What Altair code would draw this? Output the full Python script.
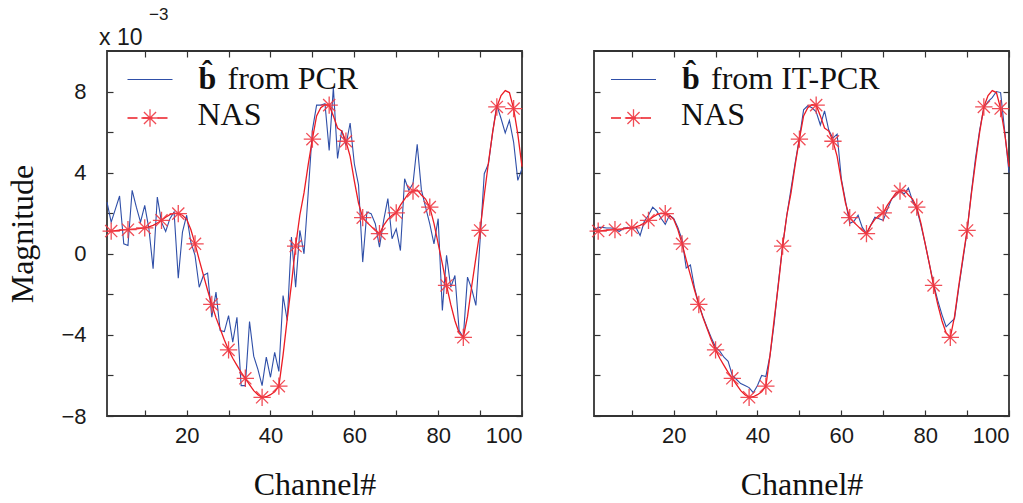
import altair as alt
import pandas as pd

channels = list(range(1, 101))

pcr_b = [2.55, 1.56, 2.20, 2.85, 0.49, 0.41, 3.13, 2.30, 1.56, 2.39,
         1.23, -0.74, 2.80, 1.56, 1.10, 1.73, 2.06, -1.20, 1.07, 1.90,
         0.58, -0.08, -1.65, -1.07, -0.95, -3.13, -1.89, -3.79, -3.84, -3.05,
         -4.36, -3.13, -6.50, -6.50, -3.34, -5.05, -5.70, -6.50, -5.10, -6.09,
         -4.86, -5.80, -2.06, -3.29, 0.82, -1.65, 1.15, 0.00, 3.00, 6.10,
         7.33, 7.33, 7.40, 5.10, 8.20, 4.70, 6.10, 5.35, 6.45, 4.44,
         3.40, -0.41, 2.06, 1.98, 1.48, 0.33, 1.65, 2.72, 0.74, 1.23,
         0.16, 3.70, 3.13, 3.46, 5.40, 3.15, 2.30, 1.48, 0.49, 1.73,
         -2.80, -0.08, -1.65, -1.07, -3.79, -4.12, -1.15, -1.73, -2.55, 0.66,
         3.95, 4.44, 6.00, 7.33, 6.67, 5.96, 6.58, 5.51, 3.62, 4.20]

itpcr_b = [1.15, 1.30, 1.30, 1.27, 1.27, 1.25, 1.10, 1.25, 1.30, 1.25,
           1.30, 0.90, 1.60, 1.90, 2.30, 2.10, 1.75, 1.45, 1.90, 1.75,
           1.30, 0.70, -0.70, -0.55, -1.70, -2.50, -3.10, -3.65, -4.15, -4.60,
           -4.80, -5.10, -5.30, -6.00, -6.20, -6.40, -6.50, -6.60, -6.85, -6.50,
           -6.00, -6.05, -5.00, -3.40, -1.40, 0.40, 1.90, 3.20, 4.50, 5.70,
           7.10, 7.30, 7.20, 7.00, 6.35, 7.05, 6.10, 5.70, 5.90, 3.70,
           2.60, 1.50, 1.60, 1.90, 1.30, 1.00, 1.40, 1.80, 1.73, 1.65,
           2.20, 2.70, 2.90, 3.10, 2.95, 3.25, 2.60, 2.20, 1.40, 0.50,
           -0.50, -1.50, -2.30, -3.00, -3.60, -3.40, -3.20, -1.70, -0.30, 1.10,
           3.00, 4.70, 6.10, 7.20, 7.50, 7.70, 8.00, 7.95, 6.00, 4.00]

nas = [1.12, 1.12, 1.14, 1.16, 1.18, 1.19, 1.21, 1.23, 1.25, 1.28,
       1.33, 1.40, 1.52, 1.65, 1.80, 1.93, 2.00, 1.98, 1.90, 1.70,
       1.20, 0.49, -0.30, -1.05, -1.80, -2.50, -3.15, -3.70, -4.25, -4.74,
       -5.15, -5.50, -5.85, -6.14, -6.45, -6.75, -6.95, -7.08, -7.05, -6.95,
       -6.80, -6.53, -5.00, -3.20, -1.50, 0.38, 1.90, 3.00, 4.40, 5.65,
       6.80, 7.20, 7.35, 7.33, 6.80, 6.20, 6.05, 5.55, 4.80, 3.60,
       2.50, 1.78, 1.55, 1.35, 1.15, 0.99, 1.40, 1.70, 1.90, 2.02,
       2.40, 2.70, 3.00, 3.09, 3.15, 2.90, 2.70, 2.30, 1.50, 0.50,
       -0.50, -1.56, -2.50, -3.30, -3.90, -4.12, -3.10, -1.60, -0.20, 1.15,
       2.90, 4.50, 6.00, 7.24, 7.80, 8.05, 7.95, 7.16, 5.90, 4.30]

marker_channels = list(range(2, 99, 4))

x_ticks = list(range(10, 101, 10))
y_ticks = list(range(-8, 9, 2))

legend_left = ["b\u0302", "from PCR", "NAS"]
legend_right = ["b\u0302", "from IT-PCR", "NAS"]
exponent = ["x 10", "\u22123"]

BLUE = "#2f4fa8"
RED = "#ec1c24"
STAR_COLOR = "#f03a44"
SERIF = "Liberation Serif"
SANS = "Liberation Sans"
W, H = 415, 365
TICK = 6
STAR = "M-1,0L1,0M0,-1L0,1M-0.7,-0.7L0.7,0.7M-0.7,0.7L0.7,-0.7"


def axis(**kw):
    base = dict(offset=-TICK, tickSize=TICK, domain=False, grid=False,
                tickColor="#333333", tickWidth=1.2, minExtent=0,
                labelFont=SANS, labelFontSize=22, labelColor="#1a1a1a",
                labelOverlap=False)
    base.update(kw)
    return alt.Axis(**base)


def panel(blue_vals, legend_texts, show_y, lx):
    xscale = alt.Scale(domain=[1, 100], nice=False, zero=False)
    yscale = alt.Scale(domain=[-8, 10], nice=False, zero=False)
    blue_df = pd.DataFrame({"channel": channels, "value": blue_vals})
    red_df = pd.DataFrame({"channel": channels, "value": nas})
    mk_df = red_df[red_df["channel"].isin(marker_channels)]

    x_bottom = axis(orient="bottom", values=x_ticks,
                    labelExpr="datum.value % 20 == 0 ? datum.label : ''",
                    labelPadding=9, labelFlush=True, title="Channel#",
                    titleFont=SERIF, titleFontSize=32, titleFontWeight="normal",
                    titleColor="#111111", titlePadding=23)
    if show_y:
        y_left = axis(orient="left", values=y_ticks,
                      labelExpr="datum.value % 4 == 0 ? datum.label : ''",
                      labelPadding=21, title="Magnitude", titleFont=SERIF,
                      titleFontSize=32, titleFontWeight="normal",
                      titleColor="#111111", titlePadding=21)
    else:
        y_left = axis(orient="left", values=y_ticks, labels=False, title=None)
    x_top = axis(orient="top", values=x_ticks, labels=False, title=None)
    y_right = axis(orient="right", values=y_ticks, labels=False, title=None)

    blue = alt.Chart(blue_df).mark_line(color=BLUE, strokeWidth=1.1).encode(
        x=alt.X("channel:Q", scale=xscale, axis=x_bottom),
        y=alt.Y("value:Q", scale=yscale, axis=y_left),
    )
    red = alt.Chart(red_df).mark_line(color=RED, strokeWidth=1.3).encode(
        x=alt.X("channel:Q", scale=xscale, axis=x_top),
        y=alt.Y("value:Q", scale=yscale, axis=y_right),
    )
    stars = alt.Chart(mk_df).mark_point(
        shape=STAR, size=300, filled=False, color=STAR_COLOR, strokeWidth=1.3, opacity=0.9
    ).encode(x=alt.X("channel:Q", axis=None), y=alt.Y("value:Q", axis=None))

    one = pd.DataFrame({"k": [0]})
    leg_blue = alt.Chart(one).mark_rule(color=BLUE, strokeWidth=1.2).encode(
        x=alt.value(lx), x2=alt.value(lx + 45), y=alt.value(28.5))
    leg_red = alt.Chart(one).mark_rule(color=RED, strokeWidth=1.3, strokeDash=[10, 5]).encode(
        x=alt.value(lx), x2=alt.value(lx + 45), y=alt.value(67))
    leg_star = alt.Chart(one).mark_point(
        shape=STAR, size=300, filled=False, color=STAR_COLOR, strokeWidth=1.3, opacity=0.9
    ).encode(x=alt.value(lx + 22.5), y=alt.value(67))
    t_b = alt.Chart(one).mark_text(align="left", baseline="alphabetic", font=SERIF,
                                   fontSize=32, fontWeight="bold", color="#111111").encode(
        x=alt.value(lx + 71), y=alt.value(37.5), text=alt.value(legend_texts[0]))
    t_from = alt.Chart(one).mark_text(align="left", baseline="alphabetic", font=SERIF,
                                      fontSize=32, color="#111111").encode(
        x=alt.value(lx + 100), y=alt.value(37.5), text=alt.value(legend_texts[1]))
    t_nas = alt.Chart(one).mark_text(align="left", baseline="alphabetic", font=SERIF,
                                     fontSize=32, color="#111111").encode(
        x=alt.value(lx + 70), y=alt.value(73.5), text=alt.value(legend_texts[2]))

    layers = [blue, red, stars, leg_blue, leg_red, leg_star, t_b, t_from, t_nas]
    if show_y:
        e1 = alt.Chart(one).mark_text(align="left", baseline="alphabetic", font=SANS,
                                      fontSize=23, color="#1a1a1a").encode(
            x=alt.value(-8), y=alt.value(-6.5), text=alt.value(exponent[0]))
        e2 = alt.Chart(one).mark_text(align="left", baseline="alphabetic", font=SANS,
                                      fontSize=17, color="#1a1a1a").encode(
            x=alt.value(42), y=alt.value(-31.5), text=alt.value(exponent[1]))
        layers += [e1, e2]

    return alt.layer(*layers).properties(width=W, height=H).resolve_axis(
        x="independent", y="independent")


left = panel(pcr_b, legend_left, True, 20.5)
right = panel(itpcr_b, legend_right, False, 17)

chart = alt.hconcat(left, right, spacing=60).properties(
    padding={"left": 6, "top": 4, "right": 0, "bottom": 0},
    background="white",
).configure_view(stroke="#333333", strokeWidth=1.8)

chart.save("out.html", embed_options={"renderer": "svg", "actions": False})
